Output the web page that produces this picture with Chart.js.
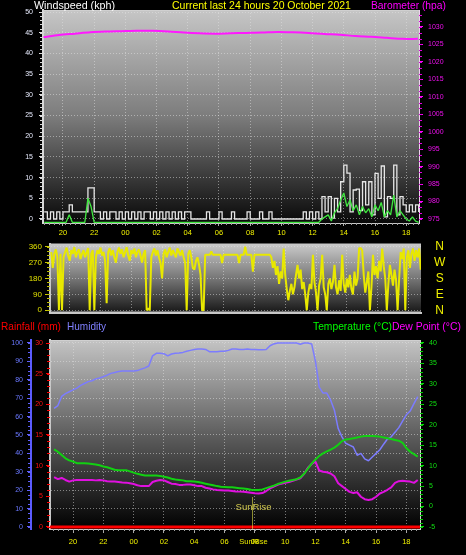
<!DOCTYPE html>
<html><head><meta charset="utf-8">
<script src="https://cdn.jsdelivr.net/npm/chart.js"></script>
<style>
html,body{margin:0;padding:0;background:#000;}
#wrap{position:relative;width:466px;height:555px;background:#000;overflow:hidden;font-family:'Liberation Sans',Arial,sans-serif;}
canvas{position:absolute;left:0;}
.t{position:absolute;font-size:11px;line-height:11px;white-space:nowrap;transform-origin:0 0;}
</style></head><body>
<div id="wrap">
<canvas id="cTop" width="466" height="240" style="top:0;width:466px;height:240px"></canvas>
<canvas id="cDir" width="466" height="80" style="top:238px;width:466px;height:80px"></canvas>
<canvas id="cTh" width="466" height="237" style="top:318px;width:466px;height:237px"></canvas>
<div class="t" data-w="81" style="left:34px;top:0;color:#ffffff">Windspeed (kph)</div>
<div class="t" data-w="179" style="left:172px;top:0;color:#ffff00">Current last 24 hours 20 October 2021</div>
<div class="t" data-w="75" style="left:371px;top:0;color:#ff00ff">Barometer (hpa)</div>
<div class="t" data-w="60" style="left:1px;top:321px;color:#ff0000">Rainfall (mm)</div>
<div class="t" data-w="39" style="left:67px;top:321px;color:#8080ff">Humidity</div>
<div class="t" data-w="79" style="left:313px;top:321px;color:#00ff00">Temperature (°C)</div>
<div class="t" data-w="69" style="left:392px;top:321px;color:#ff00ff">Dew Point (°C)</div>
</div>
<script>
// ---------- data ----------
const xTickHours = [20,22,24,26,28,30,32,34,36,38,40,42];
const xTickLabels = ['20','22','00','02','04','06','08','10','12','14','16','18'];
const windTicks = [0,5,10,15,20,25,30,35,40,45,50];
const baroTicks = [975,980,985,990,995,1000,1005,1010,1015,1020,1025,1030];
const dirTicks = [0,90,180,270,360];
const dirLetters = ['N','E','S','W','N'];
const humTicks = [0,10,20,30,40,50,60,70,80,90,100];
const rainTicks = [0,5,10,15,20,25,30];
const tempTicks = [-5,0,5,10,15,20,25,30,35,40];
const sunriseHour = 31.8;
const sunriseLabel = 'SunRise';

const windT0 = 18.8, windStep = 0.2;
const windGust = [
1.7,0,1.7,0,1.7,0,1.7,1.7,3.4,1.7,
1.7,1.7,1.7,1.7,7.5,7.5,1.7,1.7,0,1.7,
0,1.7,1.7,0,1.7,0,1.7,0,1.7,0,
1.7,0,1.7,1.7,0,1.7,0,1.7,0,1.7,
0,1.7,0,1.7,0,1.7,1.7,0,0,0,
0,0,1.7,0,0,0,1.7,0,0,0,
1.7,0,0,0,0,1.7,0,0,0,1.7,
0,0,1.7,0,0,0,0,0,0,0,
0,0,0,1.7,0,1.7,0,1.7,0,5.4,
1.7,5.4,0.2,5.0,1.7,9.0,13.0,11.1,1.7,7.0,
7.2,2.0,9.0,3.4,9.0,1.0,11.0,5.0,12.8,0.5,
5.4,5.0,13.0,1.0,5.4,3.4,1.7,3.4,1.7,3.4,1.7];
const windAvg = [
-0.8,-0.8,-0.8,-0.8,-0.8,-0.8,-0.8,-0.8,1.0,-0.8,
-0.8,-0.8,-0.8,-0.8,5.0,3.0,-0.8,-0.8,-0.8,-0.8,
-0.8,-0.8,-0.8,-0.8,-0.8,-0.8,-0.8,-0.8,-0.8,-0.8,
-0.8,-0.8,-0.8,-0.8,-0.8,-0.8,-0.8,-0.8,-0.8,-0.8,
-0.8,-0.8,-0.8,-0.8,-0.8,-0.8,-0.8,-0.8,-0.8,-0.8,
-0.8,-0.8,-0.8,-0.8,-0.8,-0.8,-0.8,-0.8,-0.8,-0.8,
-0.8,-0.8,-0.8,-0.8,-0.8,-0.8,-0.8,-0.8,-0.8,-0.8,
-0.8,-0.8,-0.8,-0.8,-0.8,-0.8,-0.8,-0.8,-0.8,-0.8,
-0.8,-0.8,-0.8,-0.8,-0.8,-0.8,-0.8,-0.8,-0.8,
0.0,0.5,1.0,-0.5,1.5,2.5,4.6,6.3,3.0,4.6,
2.0,3.4,1.0,3.0,1.5,2.5,0.5,3.4,2.0,4.0,
0.5,2.0,1.0,5.8,0.5,2.0,1.0,0.0,-0.5,0.5,-0.5,-0.8];

const dirT0 = 18.8, dirStep = 0.1;
const windDir = [
330,240,320,345,300, 0,320,0,300,
330,355,310,280,340,320,358,300,330,345,290,320,
340,300,330,352, 0, 320,340, 0,
300,340,320,355,310,330,280, 40,
330,352,310,340,300,270,330,355,320,345,300,330,358,310,280,340,320,350,300,330,345,310,270,320,340,
0,10,0, 300,
330,350,310,340,300,270,180,320,345,300,330,355,310,
340,320,300,350,330,310,340,300,270, 0, 320,
340,300,240,230,280, 300,260,200, 0,0, 314,
314,314,314,333,314,314,314,314,314,314,
268,314,314,314,314,314,314,314,314,314,
314,268,314,314,314,360,314,314,314,314,
219,314,314,314,314,314,314,314,314,314,314,314,
300,240,280,200,250,150,220,180,350,
200,120,57,110,150,90,130,200,257,180,
230,120,160,90,0,100,150,120,314,160,
100,0,140,180,314,130,90,0,150,180,
120,160,257,130,90,170,110,314,150,100,
180,130,200,120,90,219,140,180,352,352,
340,200,100,160,220,0,130,314,200,250,
181,280,220,350,250,180,0,150,257,200,
140,230,170,0,180,330,290,350,0,300,
340,240,320,350,280,340,300,350,230];

const baroT0 = 18.75, baroStep = 1;
const baro = [1027.1,1027.7,1028.1,1028.5,1028.7,1028.8,1028.9,1028.9,1028.7,1028.4,
1028.2,1028.1,1028.2,1028.3,1028.4,1028.6,1028.5,1028.3,1028.0,1027.8,
1027.4,1027.2,1026.9,1026.6,1026.6];

const thT0 = 18.75, thStep = 0.25;
const humidity = [64.5,66,71,72.5,73.5,74.5,75.5,77,78,79,
79.5,80.5,81,81.7,82.5,83.5,84,84.5,84.8,84.8,
84.8,84.8,85,85.8,86.5,87.5,93,94.4,94.4,94.2,
93,94,94.4,94.6,94.9,95.5,96,96.5,96.7,96.7,
96.5,95.3,95.3,95.3,95.5,95.5,96,96.7,96.7,96.5,
96.5,96.7,96.5,96.5,96.3,96.3,96.5,98.5,99.5,100,
100,100,100,100,100,99.3,100,100,99.5,90,
76,72.8,72.8,69,63.5,53.5,49,45.5,44.5,43.5,
39,40,37,36,38,40,42,45,47.8,49,
51.5,54,57.5,61,63,67,70.8];
const temperature = [14.0,13.4,12.6,11.8,11.3,11.0,10.6,10.6,10.6,10.5,
10.4,10.3,10.1,9.8,9.6,9.3,9.0,8.9,8.9,8.9,
8.6,8.3,8.0,7.8,7.6,7.6,7.6,7.6,7.5,7.3,
7.1,6.8,6.6,6.5,6.4,6.2,6.2,6.1,6.0,5.8,
5.6,5.4,5.2,5.0,4.85,4.8,4.7,4.7,4.6,4.5,
4.4,4.3,4.1,4.05,4.05,4.2,4.5,4.8,5.1,5.5,
5.8,6.1,6.3,6.5,6.7,7.1,8.0,9.3,10.5,11.5,
12.4,13.0,13.5,13.9,14.4,15.1,16.0,16.4,16.5,16.7,
16.9,17.1,17.25,17.25,17.25,17.2,17.1,16.9,16.7,16.5,
16.3,16.1,15.6,14.3,13.4,12.8,12.2];
const dewPoint = [7.2,6.7,7.0,6.5,6.1,6.4,6.5,6.5,6.5,6.5,
6.5,6.4,6.5,6.4,6.2,6.1,6.1,6.0,5.9,5.85,
5.7,5.5,5.2,5.0,5.0,5.0,6.0,6.3,6.5,6.4,
6.0,5.6,5.5,5.3,5.3,5.4,5.4,5.2,5.0,5.0,
4.6,4.4,4.2,4.05,4.0,3.95,3.9,3.8,3.7,3.65,
3.6,3.5,3.4,3.25,3.2,3.3,3.8,4.45,4.9,5.3,
5.6,5.8,6.0,6.3,6.6,6.9,8.0,9.5,10.4,11.0,
8.8,8.5,8.4,8.1,7.4,5.7,5.0,4.3,3.6,3.3,
3.5,2.4,1.8,1.6,1.8,2.4,3.2,3.6,4.1,4.7,
5.8,6.2,6.3,6.2,6.1,5.8,6.5];
const rainT0 = 18, rainStep = 1;
const rainfall = [0,0,0,0,0,0,0,0,0,0,0,0,0,0,0,0,0,0,0,0,0,0,0,0,0,0];

// ---------- helpers ----------
Chart.defaults.font.family = "'Liberation Sans', Arial, sans-serif";
const pts = (arr, t0, st) => arr.map((v, i) => ({x: t0 + i * st, y: v}));
const fixW = w => s => { s.width = w; s.paddingTop = s.paddingBottom = s.paddingLeft = s.paddingRight = 0; };
const fixH = h => s => { s.height = h; s.paddingTop = s.paddingBottom = s.paddingLeft = s.paddingRight = 0; };
const setTicks = vals => s => { s.ticks = vals.map(v => ({value: v})); };
const GRID = 'rgba(228,228,228,0.5)';

function bgPlugin(stops) {
  return { id: 'bg', beforeDraw(c) {
    const a = c.chartArea, x = c.ctx;
    const g = x.createLinearGradient(0, a.top, 0, a.bottom);
    stops.forEach(s => g.addColorStop(s[0], s[1]));
    x.save(); x.fillStyle = g; x.fillRect(a.left, a.top, a.right - a.left, a.bottom - a.top); x.restore();
  }};
}
function framePlugin(color, width, sides) {
  return { id: 'frame', afterDraw(c) {
    const a = c.chartArea, x = c.ctx;
    x.save(); x.strokeStyle = color; x.lineWidth = width; x.beginPath();
    if (sides.includes('t')) { x.moveTo(a.left, a.top + 0.5); x.lineTo(a.right, a.top + 0.5); }
    if (sides.includes('b')) { x.moveTo(a.left, a.bottom - 0.5); x.lineTo(a.right, a.bottom - 0.5); }
    if (sides.includes('r')) { x.moveTo(a.right - 0.5, a.top); x.lineTo(a.right - 0.5, a.bottom); }
    x.stroke(); x.restore();
  }};
}
function minorPlugin(list) {
  return { id: 'minor', afterDraw(c) {
    const ctx = c.ctx;
    list.forEach(m => {
      const s = c.scales[m.axis];
      ctx.save(); ctx.strokeStyle = m.color; ctx.lineWidth = 1; ctx.beginPath();
      for (let k = 0; ; k++) {
        const v = m.from + k * m.step;
        if (v > m.to + 1e-6) break;
        const p = Math.round(s.getPixelForValue(v)) + 0.5;
        if (s.isHorizontal()) { ctx.moveTo(p, s.top); ctx.lineTo(p, s.top + m.len); }
        else if (s.position === 'left') { ctx.moveTo(s.right - m.len, p); ctx.lineTo(s.right, p); }
        else { ctx.moveTo(s.left, p); ctx.lineTo(s.left + m.len, p); }
      }
      ctx.stroke(); ctx.restore();
    });
  }};
}
const baseOpts = {
  responsive: false, maintainAspectRatio: false, animation: false, devicePixelRatio: 1, events: [],
  plugins: { legend: { display: false }, tooltip: { enabled: false } },
  elements: { point: { radius: 0 } }
};
function xAxis(min, max, h, pad, tl, show) {
  return { type: 'linear', min, max, afterBuildTicks: setTicks(xTickHours), afterFit: fixH(h),
    ticks: { display: show, callback: (v, i) => xTickLabels[i], color: '#f0f000', font: { size: 7.5 }, padding: pad, maxRotation: 0, autoSkip: false },
    grid: { color: GRID, lineWidth: 1, drawTicks: show, tickLength: tl, tickColor: '#a8a8a8' },
    border: { color: '#c8c8c8', width: show ? 1 : 2, dash: [1, 2] } };
}

// ---------- top chart: wind speed + barometer ----------
new Chart(document.getElementById('cTop'), {
  type: 'line',
  data: { datasets: [
    { data: pts(windAvg, windT0, windStep), yAxisID: 'y', borderColor: '#40e840', borderWidth: 1.3, borderJoinStyle: 'bevel' },
    { data: pts(windGust, windT0, windStep), yAxisID: 'y', borderColor: '#e6e6e6', borderWidth: 1.3, stepped: true },
    { data: pts(baro, baroT0, baroStep), yAxisID: 'yb', borderColor: '#ff18ff', borderWidth: 2, tension: 0.3 }
  ]},
  options: Object.assign({}, baseOpts, {
    layout: { padding: { top: 10, left: 0, right: 0, bottom: 0 } },
    scales: {
      x: xAxis(18.72, 42.82, 17, 2.5, 3, true),
      y: { position: 'left', min: -0.97, max: 50.5, afterBuildTicks: setTicks(windTicks), afterFit: fixW(43),
        ticks: { color: '#e8ecff', font: { size: 7 }, padding: 6, autoSkip: false, callback: v => String(v) },
        grid: { color: GRID, tickLength: 4, tickColor: '#e0e0e0' },
        border: { color: '#d8d8d8', width: 2, dash: [1, 2] } },
      yb: { position: 'right', min: 973.85, max: 1034.87, afterBuildTicks: setTicks(baroTicks), afterFit: fixW(47),
        ticks: { color: '#f010f0', font: { size: 7 }, padding: 5, autoSkip: false, callback: v => String(v) },
        grid: { drawOnChartArea: false, tickLength: 4, tickColor: '#ff00ff' },
        border: { color: '#f0d0f0', width: 1 } }
    }
  }),
  plugins: [bgPlugin([[0, '#c6c6c6'], [0.5, '#7c7c7c'], [1, '#080808']]), framePlugin('#d0d0d0', 1, 't'),
    minorPlugin([{ axis: 'y', from: 0, to: 50, step: 1, len: 3, color: '#d8d8d8' },
                 { axis: 'yb', from: 975, to: 1034, step: 5 / 3, len: 3, color: '#e000e0' },
                 { axis: 'x', from: 18 + 2 / 3 + 0.1, to: 42.8, step: 1 / 3, len: 2, color: '#a0a0a0' }])]
});

// ---------- middle chart: wind direction ----------
new Chart(document.getElementById('cDir'), {
  type: 'line',
  data: { datasets: [
    { data: pts(windDir, dirT0, dirStep), yAxisID: 'y', borderColor: '#e8e800', borderWidth: 2, borderJoinStyle: 'bevel' }
  ]},
  options: Object.assign({}, baseOpts, {
    layout: { padding: { top: 6, left: 0, right: 0, bottom: 0 } },
    scales: {
      x: xAxis(18.72, 42.82, 5, 0, 0, false),
      y: { position: 'left', min: -15.4, max: 375.4, afterBuildTicks: setTicks(dirTicks), afterFit: fixW(50),
        ticks: { color: '#e0e000', font: { size: 8 }, padding: 3, autoSkip: false, callback: v => String(v) },
        grid: { color: GRID, tickLength: 5, tickColor: '#c8c800' },
        border: { color: '#c8c8c8', width: 2, dash: [1, 2] } },
      yr: { position: 'right', min: -15.4, max: 375.4, afterBuildTicks: setTicks(dirTicks), afterFit: fixW(45),
        ticks: { color: '#f0f000', font: { size: 12 }, padding: 13, crossAlign: 'center', autoSkip: false, callback: (v, i) => dirLetters[i] },
        grid: { display: false, drawTicks: false, drawOnChartArea: false },
        border: { display: false } }
    }
  }),
  plugins: [bgPlugin([[0, '#cacaca'], [0.5, '#767676'], [1, '#161616']]), framePlugin('#c8c8c8', 2, 'tb'),
    minorPlugin([{ axis: 'y', from: 0, to: 360, step: 22.5, len: 3, color: '#c0c000' }])]
});

// ---------- bottom chart: rain, humidity, temperature, dew point ----------
const sunrisePlugin = { id: 'sunrise', afterDatasetsDraw(c) {
  const s = c.scales.x, a = c.chartArea, ctx = c.ctx;
  const px = Math.round(s.getPixelForValue(sunriseHour)) + 0.5;
  ctx.save();
  ctx.strokeStyle = 'rgba(225,225,70,0.6)'; ctx.lineWidth = 1;
  ctx.beginPath(); ctx.moveTo(px, a.bottom - 32); ctx.lineTo(px, a.bottom); ctx.stroke();
  ctx.textAlign = 'center'; ctx.textBaseline = 'middle';
  ctx.fillStyle = '#cfc64c'; ctx.font = "9.5px 'Liberation Sans', Arial, sans-serif";
  ctx.fillText(sunriseLabel, px + 1, a.bottom - 22);
  ctx.fillStyle = '#e8e800'; ctx.font = "7.5px 'Liberation Sans', Arial, sans-serif";
  ctx.fillText(sunriseLabel, px + 1, a.bottom + 12.5);
  ctx.restore();
}};
new Chart(document.getElementById('cTh'), {
  type: 'line',
  data: { datasets: [
    { data: pts(rainfall, rainT0, rainStep), yAxisID: 'yr', borderColor: '#ff0000', borderWidth: 3 },
    { data: pts(temperature, thT0, thStep), yAxisID: 'yt', borderColor: '#12d012', borderWidth: 2, borderJoinStyle: 'bevel' },
    { data: pts(dewPoint, thT0, thStep), yAxisID: 'yt', borderColor: '#e010e0', borderWidth: 2, borderJoinStyle: 'bevel' },
    { data: pts(humidity, thT0, thStep), yAxisID: 'yh', borderColor: '#7c7cff', borderWidth: 1.5, borderJoinStyle: 'bevel' }
  ]},
  options: Object.assign({}, baseOpts, {
    layout: { padding: { top: 22, left: 0, right: 0, bottom: 0 } },
    scales: {
      x: xAxis(18.48, 42.9, 26, 4, 4, true),
      yh: { position: 'left', weight: 2, min: -1.09, max: 101.63, afterBuildTicks: setTicks(humTicks), afterFit: fixW(31),
        ticks: { color: '#6a78ff', font: { size: 7 }, padding: 4, autoSkip: false, callback: v => String(v) },
        grid: { color: GRID, tickLength: 4, tickColor: '#6060ff' },
        border: { color: '#5a5aff', width: 2, dash: [1, 2] } },
      yr: { position: 'left', weight: 1, min: -0.33, max: 30.49, afterBuildTicks: setTicks(rainTicks), afterFit: fixW(19),
        ticks: { color: '#ff1010', font: { size: 7 }, padding: 3, autoSkip: false, callback: v => String(v) },
        grid: { drawOnChartArea: false, tickLength: 4, tickColor: '#ff0000' },
        border: { color: '#c8c8c8', width: 2 } },
      yt: { position: 'right', min: -5.49, max: 40.73, afterBuildTicks: setTicks(tempTicks), afterFit: fixW(46),
        ticks: { color: '#10e010', font: { size: 7 }, padding: 5, autoSkip: false, callback: v => String(v) },
        grid: { drawOnChartArea: false, tickLength: 4, tickColor: '#00e000' },
        border: { color: '#d0d0d0', width: 1 } }
    }
  }),
  plugins: [bgPlugin([[0, '#c4c4c4'], [0.5, '#5e5e5e'], [1, '#000000']]), framePlugin('#d0d0d0', 1, 't'), sunrisePlugin,
    minorPlugin([{ axis: 'yh', from: 0, to: 100, step: 2.5, len: 3, color: '#6060ff' },
                 { axis: 'yr', from: 0, to: 30, step: 1, len: 3, color: '#ff0000' },
                 { axis: 'yt', from: -5, to: 40, step: 1, len: 3, color: '#00d000' },
                 { axis: 'x', from: 18 + 2 / 3, to: 42.8, step: 1 / 3, len: 2, color: '#a0a0a0' }])]
});

// fit title widths
document.querySelectorAll('.t').forEach(el => {
  const w = el.getBoundingClientRect().width, target = +el.dataset.w;
  if (w > 0) el.style.transform = 'scaleX(' + (target / w).toFixed(3) + ')';
});
</script>
</body></html>
